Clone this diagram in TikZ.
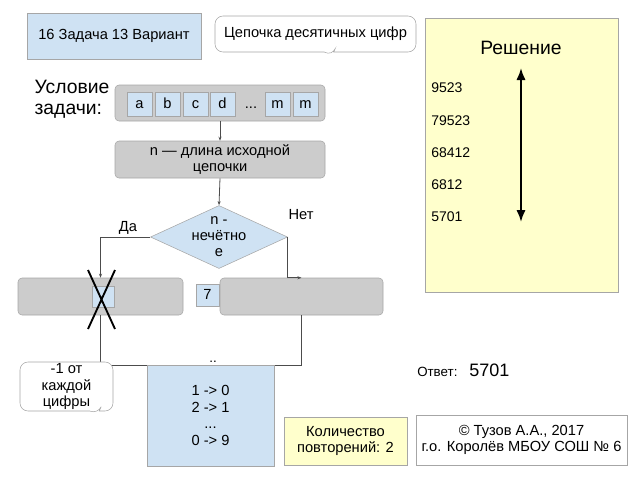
\documentclass[tikz,border=0pt]{standalone}
\usepackage{fontspec}
\setmainfont{Liberation Sans}
\usetikzlibrary{shapes.geometric,shapes.callouts,arrows.meta}

\definecolor{lblue}{HTML}{CFE2F3}
\definecolor{lgray}{HTML}{CCCCCC}
\definecolor{lyellow}{HTML}{FFFFCC}
\definecolor{edgegray}{HTML}{A6A6A6}

\tikzset{
	bluebox/.style={draw=edgegray, fill=lblue, inner sep=0pt},
	graybox/.style={draw=edgegray, fill=lgray, rounded corners=3pt, inner sep=0pt},
	yellowbox/.style={draw=edgegray, fill=lyellow, inner sep=0pt},
	notebox/.style={rectangle callout, draw=edgegray, fill=white, rounded corners=6pt, inner sep=0pt},
	cell/.style={bluebox, minimum width=18.75pt, minimum height=18pt, text height=1.6ex, text depth=0.2ex},
	line/.style={draw=black!70, line width=0.6pt},
	arrowline/.style={line, -{Stealth[length=3pt]}},
	txt/.style={font=\fontsize{11}{12.5}\selectfont, align=center}
}

\begin{document}
\begin{tikzpicture}[x=0.75pt, y=-0.75pt]
	\useasboundingbox (0,0) rectangle (640,480);
	% title and note
	\node[bluebox, txt, minimum width=130.5pt, minimum height=34.5pt] (title) at (114,36) {16 Задача 13 Вариант};
	\node[notebox, txt, minimum width=150.75pt, minimum height=27pt, callout absolute pointer={(332,56)}] (chain) at (315.5,34) {Цепочка десятичных цифр};
	\node[font=\fontsize{14.5}{15.5}\selectfont, align=left] (cond text) at (72,99) {Условие\\задачи:};
	% digit chain
	\node[graybox, minimum width=157.5pt, minimum height=27pt] (digits) at (220,103) {};
	\foreach \x/\t in {139.5/a,167.5/b,195.5/c,222.5/d,277.5/m,305.5/m}
		\node[cell, txt] at (\x,104) {\t};
	\node[txt, text height=1.6ex, text depth=0.2ex] (dots) at (251,104) {...};
	\node[graybox, txt, minimum width=157.5pt, minimum height=27.75pt] (length) at (220,159.5) {n — длина исходной\\цепочки};
	\draw[arrowline] (digits.south) -- (length.north);
	% decision
	\node[diamond, draw=edgegray, fill=lblue, minimum width=102.75pt, minimum height=47.25pt, inner sep=0pt] (odd) at (219,237) {};
	\node[txt, font=\fontsize{11}{12}\selectfont] (odd text) at (odd) {n -\\нечётно\\е};
	\draw[arrowline] (length.south) -- (odd.north);
	\node[txt] (yes) at (128,228) {Да};
	\node[txt] (no) at (301,215) {Нет};
	% branches
	\node[graybox, minimum width=123.75pt, minimum height=27.75pt] (left) at (100.5,296.5) {};
	\node[bluebox, minimum width=16.5pt, minimum height=15.75pt] (left cell) at (103,296.5) {};
	\draw[line width=1.4pt] (88,270) -- (115,329) (115,270) -- (88,329);
	\node[graybox, minimum width=122.25pt, minimum height=27.75pt] (right) at (301.5,296.5) {};
	\node[cell, txt, minimum width=17.25pt, minimum height=16.5pt] (seven) at (207.5,295) {7};
	\draw[arrowline] (odd.west) -| (left.north);
	\draw[arrowline] (odd.east) |- (right.north);
	% merge
	\coordinate (merge) at (201,365);
	\draw[line] (left.south) |- (merge) -| (right.south);
	\node[bluebox, txt, minimum width=95.25pt, minimum height=75.75pt] (shift) at (210.5,415.5) {1 -> 0\\2 -> 1\\...\\0 -> 9};
	\node[font=\fontsize{10}{10}\selectfont, inner sep=0pt] (merge dots) at (213,362) {..};
	\node[notebox, txt, minimum width=69.75pt, minimum height=36.75pt, callout absolute pointer={(98,414)}] (minus) at (66.5,386.5) {-1 от\\каждой\\цифры};
	% bottom boxes
	\node[yellowbox, txt, minimum width=92.25pt, minimum height=36pt] (repeat) at (345.5,441) {Количество\\повторений: 2};
	\node[draw=edgegray, fill=white, txt, minimum width=158.25pt, minimum height=37.5pt] (author) at (521.5,440) {© Тузов А.А., 2017\\г.о. Королёв МБОУ СОШ № 6};
	% solution
	\node[yellowbox, minimum width=144.75pt, minimum height=205.5pt] (solution) at (521.5,155) {};
	\node[font=\fontsize{14.5}{15.5}\selectfont] (solution title) at (521,48) {Решение};
	\foreach \y/\n in {88/9523,121/79523,153/68412,185/6812,217/5701}
		\node[font=\fontsize{10.5}{12}\selectfont, anchor=west, inner sep=0pt] at (431,\y) {\n};
	\coordinate (up) at (521,68);
	\coordinate (down) at (521,222);
	\draw[line width=1.5pt, {Latex[length=9pt,width=7pt]}-{Latex[length=9pt,width=7pt]}] (up) -- (down);
	% answer
	\node[font=\fontsize{10}{11}\selectfont, anchor=west, inner sep=0pt] (answer label) at (417,372) {Ответ:};
	\node[font=\fontsize{13.5}{15}\selectfont, anchor=west, inner sep=0pt] (answer) at (469,370) {5701};
\end{tikzpicture}
\end{document}
